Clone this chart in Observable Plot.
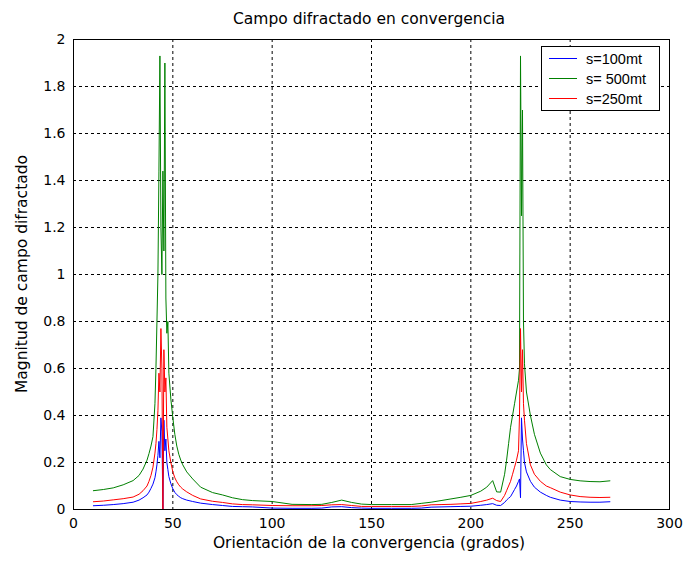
<!DOCTYPE html>
<html>
<head>
<meta charset="utf-8">
<script src="https://cdn.jsdelivr.net/npm/d3@7"></script>
<script src="https://cdn.jsdelivr.net/npm/@observablehq/plot@0.6"></script>
<style>
  html, body { margin: 0; padding: 0; background: #fff; }
</style>
</head>
<body>
<div id="chart"></div>
<script>
// Orientation angles (degrees)
const angles = [10,15,20,25,30,33,35,37,38,39,40,41,41.5,42,42.5,43,43.5,44,44.5,45,45.5,46,46.5,47,47.5,48,49,50,51,52,53,54,55,57,60,64,70,75,80,85,90,100,110,120,125,130,135,140,145,150,160,170,175,180,185,190,195,200,205,208,211,213,215,217,218,219,220,221,222,223,224,224.5,225,225.5,226,226.5,227,228,230,232,235,238,240,245,250,255,260,265,270];

// s=100mt (blue)
const s100 = [0.016,0.018,0.021,0.025,0.031,0.040,0.050,0.062,0.074,0.09,0.108,0.135,0.16,0.19,0.23,0.29,0.22,0.39,0.33,0.0,0.38,0.25,0.30,0.20,0.17,0.14,0.11,0.088,0.073,0.063,0.056,0.05,0.046,0.04,0.034,0.027,0.021,0.017,0.013,0.012,0.011,0.006,0.005,0.005,0.006,0.011,0.012,0.008,0.006,0.005,0.005,0.005,0.006,0.010,0.011,0.012,0.013,0.014,0.018,0.021,0.025,0.018,0.017,0.03,0.04,0.048,0.055,0.07,0.085,0.10,0.12,0.13,0.05,0.39,0.30,0.25,0.20,0.16,0.12,0.095,0.074,0.06,0.052,0.040,0.034,0.032,0.031,0.031,0.033];

// s= 500mt (green)
const s500 = [0.080,0.085,0.092,0.105,0.123,0.145,0.172,0.21,0.238,0.27,0.31,0.45,0.6,0.8,1.0,1.44,1.93,1.2,1.0,1.44,1.1,1.90,0.9,0.75,0.80,0.58,0.47,0.39,0.32,0.27,0.235,0.21,0.19,0.16,0.13,0.095,0.072,0.062,0.050,0.042,0.038,0.034,0.022,0.021,0.022,0.030,0.040,0.030,0.023,0.021,0.021,0.021,0.026,0.031,0.038,0.045,0.052,0.060,0.078,0.095,0.123,0.075,0.074,0.15,0.21,0.28,0.35,0.40,0.45,0.50,0.55,0.60,1.93,1.25,1.70,0.80,0.62,0.50,0.40,0.32,0.24,0.19,0.17,0.14,0.128,0.122,0.119,0.118,0.122];

// s=250mt (red)
const s250 = [0.033,0.036,0.041,0.046,0.053,0.065,0.080,0.10,0.12,0.145,0.18,0.24,0.28,0.34,0.42,0.58,0.50,0.77,0.60,0.0,0.68,0.50,0.56,0.35,0.30,0.25,0.20,0.16,0.135,0.118,0.105,0.095,0.087,0.075,0.060,0.045,0.035,0.030,0.024,0.021,0.020,0.017,0.016,0.016,0.017,0.020,0.021,0.017,0.013,0.013,0.013,0.013,0.015,0.020,0.021,0.022,0.024,0.026,0.034,0.040,0.048,0.038,0.034,0.06,0.08,0.10,0.12,0.15,0.18,0.21,0.25,0.40,0.77,0.50,0.68,0.45,0.38,0.28,0.19,0.15,0.12,0.10,0.093,0.074,0.062,0.055,0.052,0.051,0.052];

const xTicks = [0,50,100,150,200,250,300];
const yTicks = [0,0.2,0.4,0.6,0.8,1,1.2,1.4,1.6,1.8,2];
const seriesNames = ["s=100mt","s= 500mt","s=250mt"];
const seriesColors = ["#0000ff","#008000","#ff0000"];
const seriesValues = [s100, s500, s250];

const rows = seriesValues.map(vals => angles.map((a, i) => ({x: a, y: vals[i]})));

const chart = Plot.plot({
  width: 685,
  height: 563,
  marginLeft: 73,
  marginRight: 16,
  marginTop: 39,
  marginBottom: 54,
  style: {background: "white", fontFamily: "'DejaVu Sans', sans-serif", fontSize: "14px", color: "black"},
  x: {domain: [0, 300], label: null},
  y: {domain: [0, 2], label: null},
  marks: [
    Plot.gridX(xTicks.slice(1, -1), {stroke: "black", strokeOpacity: 1, strokeDasharray: "3,3"}),
    Plot.gridY(yTicks.slice(1, -1), {stroke: "black", strokeOpacity: 1, strokeDasharray: "3,3"}),
    Plot.axisX(xTicks, {tickSize: 0, tickPadding: 9, tickFormat: d => String(d), fontSize: 14, label: null}),
    Plot.axisY(yTicks, {tickSize: 0, tickPadding: 8, tickFormat: d => String(Math.round(d * 10) / 10), fontSize: 14, label: null}),
    ...rows.map((r, i) => Plot.line(r, {x: "x", y: "y", stroke: seriesColors[i], strokeWidth: 1})),
    Plot.frame({stroke: "black", strokeWidth: 1})
  ]
});

const svg = d3.select(chart);
// Title
svg.append("text")
  .attr("x", 369).attr("y", 24)
  .attr("text-anchor", "middle")
  .attr("font-family", "'DejaVu Sans', sans-serif")
  .attr("font-size", 15.5)
  .attr("fill", "black")
  .text("Campo difractado en convergencia");
// X label
svg.append("text")
  .attr("x", 369).attr("y", 548)
  .attr("text-anchor", "middle")
  .attr("font-family", "'DejaVu Sans', sans-serif")
  .attr("font-size", 15.5)
  .attr("fill", "black")
  .text("Orientación de la convergencia (grados)");
// Y label
svg.append("text")
  .attr("transform", "translate(27,274) rotate(-90)")
  .attr("text-anchor", "middle")
  .attr("font-family", "'DejaVu Sans', sans-serif")
  .attr("font-size", 15.5)
  .attr("fill", "black")
  .text("Magnitud de campo difractado");

// Legend
const lg = svg.append("g");
lg.append("rect")
  .attr("x", 541.5).attr("y", 46.5).attr("width", 118).attr("height", 64)
  .attr("fill", "white").attr("stroke", "black").attr("stroke-width", 1);
seriesNames.forEach((name, i) => {
  const yy = 58.5 + i * 20;
  lg.append("line")
    .attr("x1", 549).attr("x2", 577).attr("y1", yy).attr("y2", yy)
    .attr("stroke", seriesColors[i]).attr("stroke-width", 1);
  lg.append("text")
    .attr("x", 586).attr("y", yy + 5)
    .attr("text-anchor", "start")
    .attr("font-family", "'Liberation Sans', Arial, sans-serif")
    .attr("font-size", 14.5)
    .attr("fill", "black")
    .text(name);
});

document.getElementById("chart").appendChild(chart);
</script>
</body>
</html>
